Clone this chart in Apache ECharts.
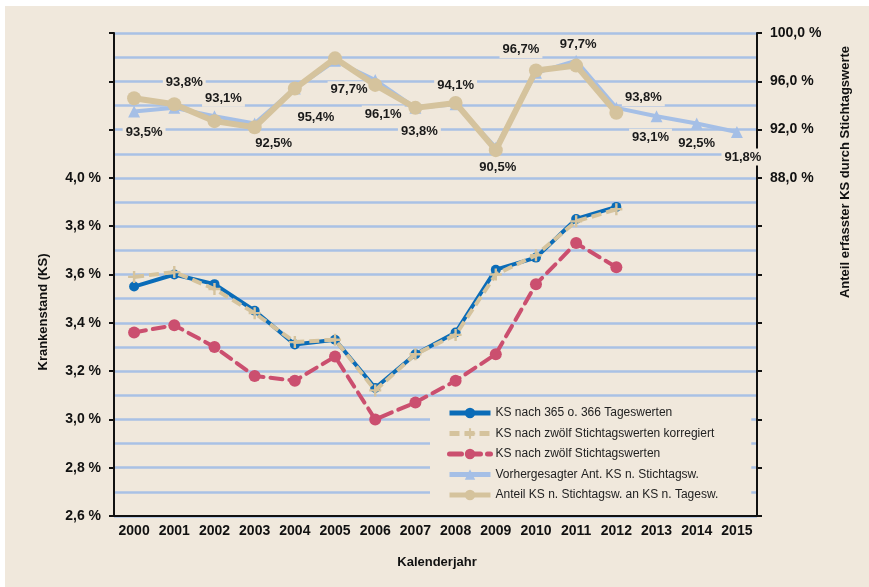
<!DOCTYPE html>
<html lang="de">

<head>
    <meta charset="UTF-8">
    <title>Krankenstand</title>
    <script src="https://cdn.jsdelivr.net/npm/echarts/dist/echarts.min.js"></script>
    <style>
        body {
            margin: 0;
            background: #ffffff;
        }

        .picture {
            position: absolute;
            left: 5px;
            top: 6px;
            width: 864px;
            height: 581px;
            background: #f0e8dc;
        }
    </style>
</head>

<body>
    <div class="picture"></div>
    <script>
        var years = ['2000', '2001', '2002', '2003', '2004', '2005', '2006', '2007',
            '2008', '2009', '2010', '2011', '2012', '2013', '2014', '2015'];
        // Krankenstand in % (linke Achse)
        var ksTage = [3.55, 3.60, 3.56, 3.45, 3.31, 3.33, 3.13, 3.27, 3.36, 3.62, 3.67, 3.83, 3.88];
        var ksStichKorr = [3.59, 3.61, 3.54, 3.44, 3.32, 3.33, 3.12, 3.27, 3.35, 3.60, 3.68, 3.82, 3.87];
        var ksStich = [3.36, 3.39, 3.30, 3.18, 3.16, 3.26, 3.00, 3.07, 3.16, 3.27, 3.56, 3.73, 3.63];
        // Anteil in % (rechte Achse)
        var anteilVorher = [93.5, 93.8, 93.1, 92.5, 95.4, 97.7, 96.1, 93.8, 94.1, 90.5, 96.7, 97.7, 93.8, 93.1, 92.5, 91.8];
        var anteil = [94.6, 94.1, 92.7, 92.2, 95.4, 97.9, 95.7, 93.8, 94.2, 90.3, 96.9, 97.3, 93.4];
        // Lage der Beschriftungen (dx, dy)
        var labelOffsets = [[10, 21], [10, -25], [9, -18], [19, 20], [21, 29], [14, 29], [8, 34], [4, 24],
            [0, -19], [2, 20], [-15, -23], [2, -16], [27, -10], [-6, 21], [0, 20], [6, 25]];

        var bg = '#f0e8dc';
        var font = 'Liberation Sans, Arial, sans-serif';

        function fmt(v, d) {
            return v.toFixed(d).replace('.', ',');
        }

        var myChart = echarts.init(document.getElementsByClassName('picture')[0]);

        var vorherData = anteilVorher.map(function (v, i) {
            return {
                value: v,
                label: { offset: labelOffsets[i] }
            };
        });

        var legendNames = ['KS nach 365 o. 366 Tageswerten', 'KS nach zwölf Stichtagswerten korregiert',
            'KS nach zwölf Stichtagswerten', 'Vorhergesagter Ant. KS n. Stichtagsw.',
            'Anteil KS n. Stichtagsw. an KS n. Tagesw.'];

        myChart.setOption({
            animation: false,
            textStyle: { fontFamily: font },
            grid: { left: 109, right: 112, top: 27, bottom: 71 },
            legend: {
                orient: 'vertical',
                left: 425,
                top: 392,
                padding: [9, 33, 11, 17],
                itemGap: 8.5,
                itemWidth: 41,
                itemHeight: 13,
                backgroundColor: bg,
                textStyle: { fontSize: 12, color: '#222', fontFamily: font },
                data: legendNames.map(function (n) {
                    return { name: n, lineStyle: { width: 5 } };
                })
            },
            xAxis: {
                type: 'category',
                data: years,
                axisLine: { lineStyle: { color: '#111', width: 2 } },
                axisTick: { show: false },
                axisLabel: { color: '#111', fontWeight: 'bold', fontSize: 14, margin: 8, interval: 0 }
            },
            yAxis: [
                {
                    type: 'value',
                    min: 2.6,
                    max: 4.6,
                    interval: 0.2,
                    axisLine: { show: true, lineStyle: { color: '#111', width: 2 } },
                    axisTick: { show: true, length: 5, lineStyle: { color: '#111', width: 2 } },
                    axisLabel: {
                        color: '#111', fontWeight: 'bold', fontSize: 14, margin: 13,
                        formatter: function (v) {
                            return v > 4.01 ? '' : fmt(v, 1) + ' %';
                        }
                    },
                    splitLine: { show: true, lineStyle: { color: '#a9c1e5', width: 2.5 } },
                    minorTick: { show: false, splitNumber: 2 },
                    minorSplitLine: { show: true, lineStyle: { color: '#a9c1e5', width: 2.5 } }
                },
                {
                    type: 'value',
                    min: 60,
                    max: 100,
                    interval: 4,
                    axisLine: { show: true, lineStyle: { color: '#111', width: 2 } },
                    axisTick: { show: true, length: 5, lineStyle: { color: '#111', width: 2 } },
                    axisLabel: {
                        color: '#111', fontWeight: 'bold', fontSize: 14, margin: 13,
                        formatter: function (v) {
                            return v < 87 ? '' : fmt(v, 1) + ' %';
                        }
                    },
                    splitLine: { show: false }
                }
            ],
            graphic: [
                {
                    type: 'text',
                    x: 38, y: 306,
                    rotation: Math.PI / 2,
                    style: {
                        text: 'Krankenstand (KS)', fill: '#111', font: 'bold 13px ' + font,
                        textAlign: 'center', textVerticalAlign: 'middle'
                    }
                },
                {
                    type: 'text',
                    x: 840, y: 166,
                    rotation: Math.PI / 2,
                    style: {
                        text: 'Anteil erfasster KS durch Stichtagswerte', fill: '#111', font: 'bold 13px ' + font,
                        textAlign: 'center', textVerticalAlign: 'middle'
                    }
                },
                {
                    type: 'text',
                    x: 432, y: 556,
                    style: {
                        text: 'Kalenderjahr', fill: '#111', font: 'bold 13px ' + font,
                        textAlign: 'center', textVerticalAlign: 'middle'
                    }
                }
            ],
            series: [
                {
                    name: 'Vorhergesagter Ant. KS n. Stichtagsw.',
                    type: 'line',
                    yAxisIndex: 1,
                    data: vorherData,
                    symbol: 'triangle',
                    symbolSize: 12,
                    itemStyle: { color: '#a5bfe6' },
                    lineStyle: { color: '#a5bfe6', width: 4 },
                    label: {
                        show: true,
                        position: 'inside',
                        color: '#1a1a1a',
                        fontWeight: 'bold',
                        fontSize: 13,
                        backgroundColor: bg,
                        padding: [2, 3],
                        formatter: function (p) {
                            return fmt(p.value, 1) + '%';
                        }
                    },
                    z: 3
                },
                {
                    name: 'Anteil KS n. Stichtagsw. an KS n. Tagesw.',
                    type: 'line',
                    yAxisIndex: 1,
                    data: anteil,
                    symbol: 'circle',
                    symbolSize: 14,
                    itemStyle: { color: '#d5c39d' },
                    lineStyle: { color: '#d5c39d', width: 6 },
                    z: 4
                },
                {
                    name: 'KS nach zwölf Stichtagswerten',
                    type: 'line',
                    data: ksStich,
                    symbol: 'circle',
                    symbolSize: 12,
                    itemStyle: { color: '#cb4f6f' },
                    lineStyle: { color: '#cb4f6f', width: 4, type: [12, 7], cap: 'round' },
                    z: 3
                },
                {
                    name: 'KS nach 365 o. 366 Tageswerten',
                    type: 'line',
                    data: ksTage,
                    symbol: 'circle',
                    symbolSize: 10,
                    itemStyle: { color: '#0a6cb8' },
                    lineStyle: { color: '#0a6cb8', width: 4 },
                    z: 4
                },
                {
                    name: 'KS nach zwölf Stichtagswerten korregiert',
                    type: 'line',
                    data: ksStichKorr,
                    symbol: 'path://M4,0H6V4H10V6H6V10H4V6H0V4H4Z',
                    symbolSize: 12,
                    itemStyle: { color: '#d5c39d' },
                    lineStyle: { color: '#d5c39d', width: 4, type: [10, 5] },
                    z: 5
                }
            ]
        });
    </script>
</body>

</html>
